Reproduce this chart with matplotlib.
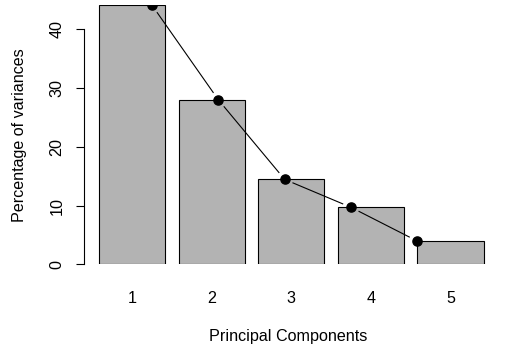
import matplotlib
matplotlib.use("Agg")
import matplotlib.pyplot as plt
import numpy as np

# values
components = ["1", "2", "3", "4", "5"]
variances = [44.1, 28.0, 14.45, 9.7, 3.95]

plt.rcParams['font.family'] = ['Liberation Sans', 'DejaVu Sans']

fig = plt.figure(figsize=(5.09, 3.57), dpi=100)
ax = fig.add_axes([0.1648, 0.2597, 0.802, 0.7255])

# R barplot layout: width 1, space 0.2
n = len(variances)
lefts = 0.2 + np.arange(n) * 1.2
centers = lefts + 0.5
ax.bar(lefts, variances, width=1.0, align='edge', color='#b3b3b3',
       edgecolor='black', linewidth=0.8)

ax.set_xlim(-0.028, 6.128)
ax.set_ylim(0, max(variances))

# type="b" line: points at x = 1..n, segments stop short of each point
xs = np.arange(1, n + 1)
pts = ax.transData.transform(np.column_stack([xs, variances]))
gap = 9
inv = ax.transData.inverted()
for i in range(n - 1):
    p0, p1 = pts[i], pts[i + 1]
    d = p1 - p0
    L = np.hypot(*d)
    if L <= 2 * gap:
        continue
    u = d / L
    a = inv.transform(p0 + u * gap)
    b = inv.transform(p1 - u * gap)
    ax.plot([a[0], b[0]], [a[1], b[1]], color='black', linewidth=0.8)
ax.plot(xs, variances, 'o', color='black', markersize=6.6, clip_on=True)

# axes styling like R base graphics
for s in ['top', 'right', 'bottom']:
    ax.spines[s].set_visible(False)
ax.spines['left'].set_bounds(0, 40)
ax.spines['left'].set_linewidth(0.8)
ax.set_yticks([0, 10, 20, 30, 40])
ax.set_yticklabels(['0', '10', '20', '30', '40'], rotation=90, va='center')
ax.tick_params(axis='y', length=5.8, width=0.8, pad=8, labelsize=11.6)
ax.set_xticks(centers)
ax.set_xticklabels(components)
ax.tick_params(axis='x', length=0, pad=19, labelsize=11.6)

ax.set_xlabel('Principal Components', fontsize=11.6, labelpad=17)
ax.set_ylabel('Percentage of variances', fontsize=11.6, labelpad=16)

fig.savefig('out.png', dpi=100)
